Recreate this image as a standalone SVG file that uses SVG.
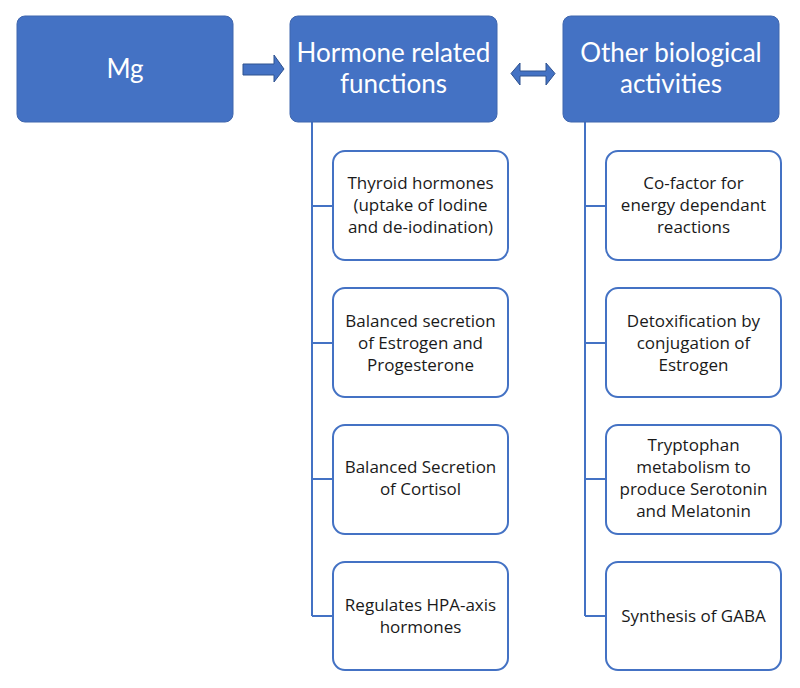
<svg xmlns="http://www.w3.org/2000/svg" width="800" height="688" viewBox="0 0 800 688">
<style>
.hd{fill:#4472C4;stroke:#3F66AE;stroke-width:1}
.ch{fill:#fff;stroke:#4472C4;stroke-width:2}
.ht{font-family:Lato,"Liberation Sans",sans-serif;font-size:26px;fill:#fff;text-anchor:middle}
.ct{font-family:"Open Sans","Liberation Sans",sans-serif;font-size:17px;fill:#1a1a1a;text-anchor:middle;font-variant-ligatures:none}
.ln{fill:none;stroke:#4472C4;stroke-width:2}
.ar{fill:#4472C4;stroke:#2F528F;stroke-width:1}
</style>
<rect width="800" height="688" fill="#fff"/>
<g id="connectors">
<path class="ln" d="M312 122V616M312 206H333M312 343H333M312 479H333M312 616H333"/>
<path class="ln" d="M585 122V616M585 206H606M585 343H606M585 479H606M585 616H606"/>
<path class="ar" d="M243 64H274V55L284 69L274 82V75H243Z"/>
<path class="ar" d="M511 73.5L520 63V71H546V63L555 73.5L546 85V76H520V85Z"/>
</g>
<g id="mg"><rect class="hd" x="17" y="16" width="216" height="106" rx="8"/><text class="ht" x="125" y="78">Mg</text></g>
<g id="hormone"><rect class="hd" x="290" y="16" width="207" height="106" rx="8"/><text class="ht" x="393.5" y="62">Hormone related</text><text class="ht" x="393.5" y="93">functions</text></g>
<g id="other"><rect class="hd" x="563" y="16" width="216" height="106" rx="8"/><text class="ht" x="671" y="62">Other biological</text><text class="ht" x="671" y="93">activities</text></g>
<g id="thyroid"><rect class="ch" x="333" y="151" width="175" height="109" rx="12"/><text class="ct" x="420.5" y="189">Thyroid hormones</text><text class="ct" x="420.5" y="211">(uptake of Iodine</text><text class="ct" x="420.5" y="233">and de-iodination)</text></g>
<g id="estrogen"><rect class="ch" x="333" y="288" width="175" height="109" rx="12"/><text class="ct" x="420.5" y="327">Balanced secretion</text><text class="ct" x="420.5" y="349">of Estrogen and</text><text class="ct" x="420.5" y="371">Progesterone</text></g>
<g id="cortisol"><rect class="ch" x="333" y="425" width="175" height="109" rx="12"/><text class="ct" x="420.5" y="473">Balanced Secretion</text><text class="ct" x="420.5" y="495">of Cortisol</text></g>
<g id="hpa"><rect class="ch" x="333" y="562" width="175" height="108" rx="12"/><text class="ct" x="420.5" y="611">Regulates HPA-axis</text><text class="ct" x="420.5" y="633">hormones</text></g>
<g id="cofactor"><rect class="ch" x="606" y="151" width="175" height="109" rx="12"/><text class="ct" x="693.5" y="189">Co-factor for</text><text class="ct" x="693.5" y="211">energy dependant</text><text class="ct" x="693.5" y="233">reactions</text></g>
<g id="detox"><rect class="ch" x="606" y="288" width="175" height="109" rx="12"/><text class="ct" x="693.5" y="327">Detoxification by</text><text class="ct" x="693.5" y="349">conjugation of</text><text class="ct" x="693.5" y="371">Estrogen</text></g>
<g id="tryptophan"><rect class="ch" x="606" y="425" width="175" height="109" rx="12"/><text class="ct" x="693.5" y="451">Tryptophan</text><text class="ct" x="693.5" y="473">metabolism to</text><text class="ct" x="693.5" y="495">produce Serotonin</text><text class="ct" x="693.5" y="517">and Melatonin</text></g>
<g id="gaba"><rect class="ch" x="606" y="562" width="175" height="108" rx="12"/><text class="ct" x="693.5" y="622">Synthesis of GABA</text></g>
</svg>
